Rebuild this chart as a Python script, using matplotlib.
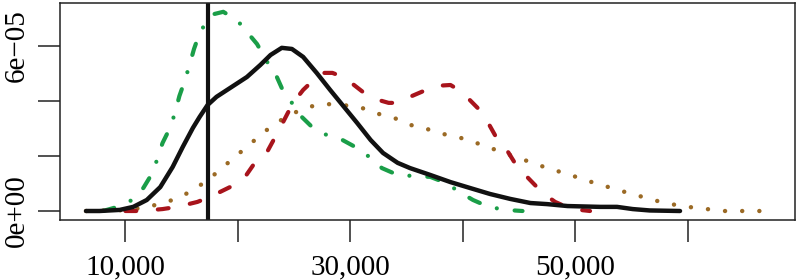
import matplotlib
matplotlib.use("Agg")
import matplotlib.pyplot as plt

# density curves, x in thousands, y in units of 1e-5
black_x = [6.5, 7.7, 9.5, 10.7, 11.9, 13.1, 14.2, 15.1, 16.0, 16.6, 17.3, 18.1,
           19.6, 20.8, 22.0, 22.9, 23.9, 24.8, 25.8, 27.0, 28.2, 29.3, 30.6,
           31.8, 32.9, 34.2, 35.3, 37.1, 38.9, 40.6, 42.4, 44.2, 46.0, 47.5,
           49.3, 52.2, 53.7, 55.1, 56.6, 59.3]
black_y = [0.0, 0.0, 0.04, 0.15, 0.40, 0.87, 1.60, 2.33, 3.02, 3.42, 3.85, 4.15,
           4.55, 4.87, 5.31, 5.67, 5.93, 5.89, 5.60, 5.02, 4.40, 3.85, 3.20,
           2.58, 2.11, 1.75, 1.56, 1.31, 1.05, 0.84, 0.62, 0.44, 0.29, 0.25,
           0.18, 0.15, 0.15, 0.07, 0.02, 0.0]

green_x = [8.0, 9.3, 10.6, 11.6, 12.4, 12.8, 13.3, 14.0, 14.4, 14.8, 15.3, 15.7,
           16.1, 16.6, 17.2, 17.9, 18.7, 19.3, 19.9, 20.8, 21.7, 22.6, 23.3,
           23.9, 24.8, 25.5, 26.6, 27.9, 29.3, 30.6, 31.8, 32.8, 34.2, 35.7,
           37.1, 38.5, 39.7, 40.9, 42.3, 43.8, 45.3]
green_y = [0.0, 0.15, 0.40, 0.84, 1.38, 1.85, 2.47, 3.05, 3.56, 4.18, 4.76, 5.31,
           5.89, 6.47, 6.87, 7.16, 7.24, 7.09, 6.95, 6.51, 6.07, 5.42, 5.02,
           4.47, 3.93, 3.49, 3.05, 2.76, 2.58, 2.29, 1.93, 1.56, 1.31, 1.27,
           1.24, 1.02, 0.69, 0.40, 0.15, 0.04, 0.0]

red_x = [10.0, 11.3, 13.3, 14.6, 16.4, 17.5, 19.3, 20.5, 21.5, 22.6, 23.7, 24.9,
         25.8, 27.0, 27.7, 28.4, 29.1, 30.1, 31.1, 32.2, 33.4, 34.1, 35.3,
         36.5, 37.7, 38.9, 39.9, 40.6, 41.3, 42.1, 43.0, 43.9, 44.9, 45.8,
         47.1, 48.2, 49.2, 50.4, 51.3]
red_y = [0.0, 0.0, 0.07, 0.15, 0.33, 0.51, 0.87, 1.16, 1.75, 2.15, 2.98, 3.93,
         4.40, 4.87, 5.02, 5.02, 4.91, 4.65, 4.33, 4.07, 3.93, 3.93, 4.15,
         4.36, 4.55, 4.58, 4.33, 4.04, 3.75, 3.31, 2.65, 2.22, 1.56, 1.20,
         0.65, 0.33, 0.15, 0.04, 0.0]

brown_x = [6.5, 9.8, 11.5, 13.0, 14.5, 15.9, 17.2, 18.4, 19.7, 20.9, 22.1, 23.4,
           24.8, 26.2, 27.8, 29.4, 31.0, 32.5, 34.1, 35.6, 37.1, 38.6, 40.2,
           41.7, 43.2, 44.7, 46.2, 47.7, 49.3, 50.8, 52.3, 53.8, 55.4, 56.9,
           58.5, 60.0, 61.7, 63.2, 66.4]
brown_y = [0.0, 0.03, 0.11, 0.25, 0.44, 0.73, 1.09, 1.49, 1.96, 2.36, 2.80, 3.20,
           3.53, 3.78, 3.89, 3.85, 3.75, 3.53, 3.35, 3.09, 2.95, 2.76, 2.62,
           2.40, 2.18, 1.96, 1.75, 1.53, 1.35, 1.13, 0.95, 0.76, 0.58, 0.40,
           0.25, 0.15, 0.07, 0.0, 0.0]

cutoff = 17.37

x_ticks = [10, 20, 30, 40, 50, 60]
x_labels = ["10,000", "", "30,000", "", "50,000", ""]
y_ticks = [0, 2, 4, 6]
y_labels = ["0e+00", "", "", "6e\u221205"]

plt.rcParams['font.family'] = ['Liberation Serif', 'DejaVu Serif']

fig = plt.figure(figsize=(7.96, 2.8), dpi=100)
ax = fig.add_axes([60 / 796, 1 - 220 / 280, 735 / 796, 217 / 280])


def scale(v, k):
    return [a * k for a in v]


ax.plot(scale(brown_x, 1000), scale(brown_y, 1e-5), color="#9b6a25", lw=3.2,
        linestyle=(0, (0.01, 3.85)), dash_capstyle="round")
ax.plot(scale(red_x, 1000), scale(red_y, 1e-5), color="#a8141c", lw=3.0,
        linestyle=(0, (2.6, 5.2)), dash_capstyle="round", dash_joinstyle="round")
ax.plot(scale(green_x, 1000), scale(green_y, 1e-5), color="#1a9e48", lw=3.0,
        linestyle=(0, (2.8, 4.3, 0.01, 4.3)), dash_capstyle="round",
        dash_joinstyle="round")
ax.plot(scale(black_x, 1000), scale(black_y, 1e-5), color="#111111", lw=3.2,
        solid_capstyle="round", solid_joinstyle="round")
ax.axvline(cutoff * 1000, color="#111111", lw=3.0)

ax.set_xlim(4187, 69520)
ax.set_ylim(-0.327e-5, 7.56e-5)

ax.set_xticks([t * 1000 for t in x_ticks])
ax.set_xticklabels(x_labels)
ax.set_yticks([t * 1e-5 for t in y_ticks])
ax.set_yticklabels(y_labels, rotation=90, va="center")

ax.tick_params(axis="both", direction="out", length=16, width=1.1,
               labelsize=21, color="#222222")
ax.tick_params(axis="x", pad=9)
ax.tick_params(axis="y", pad=6)
for s in ax.spines.values():
    s.set_linewidth(1.1)
    s.set_color("#222222")

fig.savefig("out.png", dpi=100)
